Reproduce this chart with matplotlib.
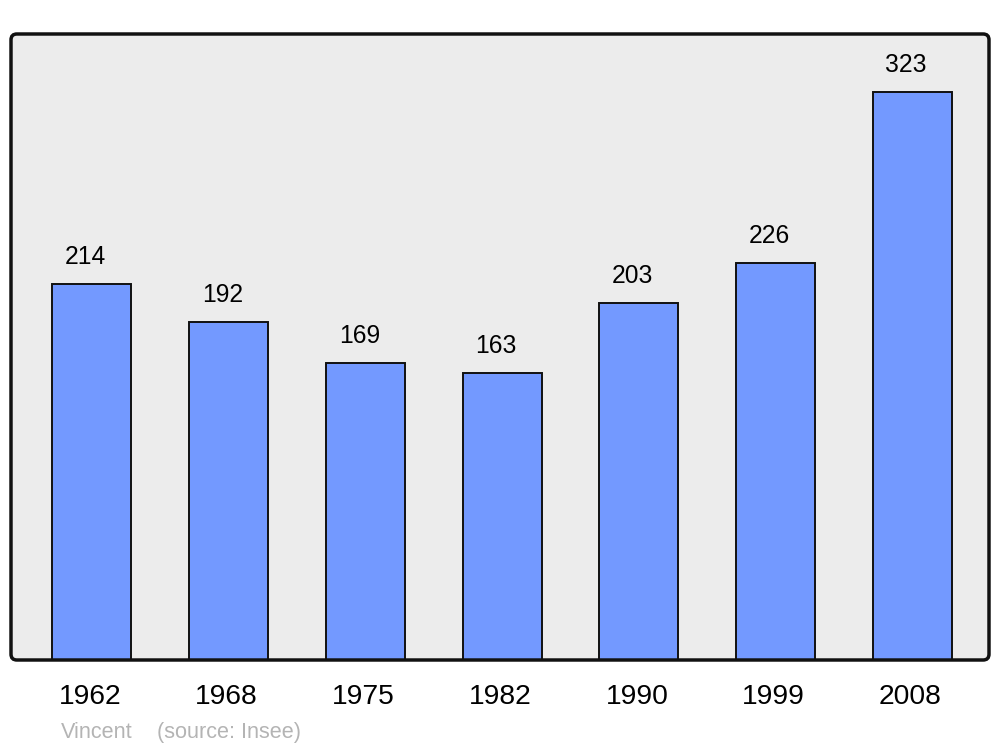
import matplotlib
matplotlib.use("Agg")
import matplotlib.pyplot as plt
import matplotlib.transforms as mtransforms
from matplotlib.patches import FancyBboxPatch

years = ["1962", "1968", "1975", "1982", "1990", "1999", "2008"]
population = [214, 192, 169, 163, 203, 226, 323]

plt.rcParams['font.family'] = ['Liberation Sans', 'DejaVu Sans']

fig = plt.figure(figsize=(10, 7.47), dpi=100)
ax = fig.add_axes([11/1000, (747-660)/747, 978/1000, 626/747])
ax.set_xlim(-0.592, 6.56)
ax.set_ylim(0, 356)
for s in ax.spines.values():
    s.set_visible(False)
ax.set_facecolor('none')

bg = FancyBboxPatch((0, 0), 1, 1, boxstyle="round,pad=0,rounding_size=0.006",
                    transform=ax.transAxes, facecolor='#ececec', edgecolor='none',
                    zorder=0, clip_on=False, mutation_aspect=978/626)
ax.add_patch(bg)
frame = FancyBboxPatch((0, 0), 1, 1, boxstyle="round,pad=0,rounding_size=0.006",
                       transform=ax.transAxes, facecolor='none', edgecolor='#111111',
                       linewidth=2.5, zorder=5, clip_on=False, mutation_aspect=978/626)
ax.add_patch(frame)

x = list(range(len(years)))
bars = ax.bar(x, population, width=0.578, color='#7399ff', edgecolor='#111111',
              linewidth=1.4, zorder=2)
for xi, v in zip(x, population):
    ax.annotate(str(v), (xi, v), xytext=(-4.5, 14.4), textcoords='offset points',
                ha='center', va='baseline', fontsize=17.7, color='black')

ax.set_xticks(x)
ax.set_xticklabels(years, fontsize=20.3)
ax.tick_params(axis='x', length=0, pad=17.5)
shift = mtransforms.ScaledTranslation(-2/100, 0, fig.dpi_scale_trans)
for lbl in ax.get_xticklabels():
    lbl.set_transform(lbl.get_transform() + shift)
ax.set_yticks([])

fig.text(61/1000, (747-738)/747, "Vincent", color='#b4b4b4', fontsize=15.6, va='baseline')
fig.text(157/1000, (747-738)/747, "(source: Insee)", color='#b4b4b4', fontsize=15.6, va='baseline')

fig.savefig("out.png", dpi=100, facecolor='white')
